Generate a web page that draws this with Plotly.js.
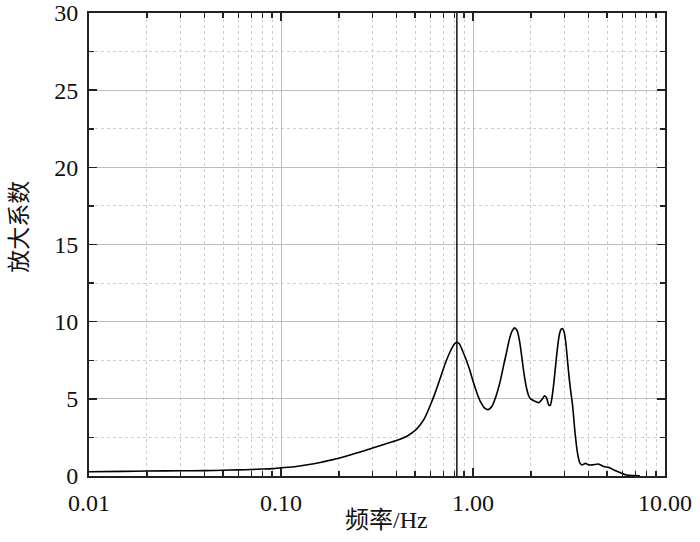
<!DOCTYPE html>
<html>
<head>
<meta charset="utf-8">
<script src="https://cdn.plot.ly/plotly-3.0.1.min.js"></script>
<style>html,body{margin:0;padding:0;background:#fff;}#chart{width:700px;height:542px;}</style>
</head>
<body>
<div id="chart"></div>
<script>
// Frequency (Hz)
var freq = [0.01, 0.015, 0.02, 0.03, 0.04, 0.05, 0.06, 0.07, 0.08, 0.09, 0.1, 0.12, 0.14, 0.16, 0.18, 0.2, 0.25, 0.3, 0.35, 0.4, 0.45, 0.5, 0.53, 0.56, 0.6, 0.64, 0.68, 0.72, 0.76, 0.8, 0.824, 0.85, 0.88, 0.92, 0.96, 1.0, 1.05, 1.1, 1.15, 1.2, 1.26, 1.32, 1.38, 1.44, 1.5, 1.55, 1.6, 1.65, 1.7, 1.75, 1.8, 1.85, 1.9, 1.95, 2.0, 2.1, 2.2, 2.3, 2.36, 2.42, 2.48, 2.53, 2.58, 2.64, 2.7, 2.76, 2.82, 2.88, 2.93, 2.98, 3.04, 3.1, 3.16, 3.22, 3.3, 3.4, 3.5, 3.6, 3.7, 3.85, 4.0, 4.2, 4.5, 4.8, 5.1, 5.5, 5.9, 6.3, 6.8, 7.4];
// Amplification factor
var amp = [0.28, 0.30, 0.32, 0.34, 0.35, 0.37, 0.40, 0.42, 0.45, 0.48, 0.53, 0.62, 0.74, 0.88, 1.02, 1.15, 1.5, 1.82, 2.08, 2.3, 2.56, 2.95, 3.3, 3.75, 4.6, 5.5, 6.45, 7.35, 8.05, 8.55, 8.66, 8.55, 8.15, 7.55, 6.9, 6.15, 5.35, 4.75, 4.4, 4.3, 4.55, 5.2, 6.05, 7.1, 8.1, 8.9, 9.4, 9.6, 9.4, 8.7, 7.6, 6.5, 5.7, 5.2, 4.98, 4.85, 4.75, 5.0, 5.2, 5.05, 4.6, 4.6, 5.1, 6.1, 7.3, 8.4, 9.2, 9.52, 9.55, 9.35, 8.7, 7.6, 6.5, 5.6, 4.6, 2.8, 1.5, 0.85, 0.72, 0.82, 0.72, 0.72, 0.78, 0.62, 0.55, 0.35, 0.2, 0.06, 0.03, 0.02];
// Marked frequency (vertical line)
var markFreq = [0.824, 0.824];
var markY = [0, 30];
// Axis tick values
var xTickVals = [0.01, 0.1, 1, 10];
var xTickText = ['0.01', '0.10', '1.00', '10.00'];
var yTickVals = [0, 5, 10, 15, 20, 25, 30];
var xTitle = '频率/Hz';
var yTitle = '放大系数';

var fontFam = 'Liberation Serif, Noto Sans CJK SC, serif';

var traces = [
  {x: freq, y: amp, type: 'scatter', mode: 'lines',
   line: {color: '#000', width: 1.6, shape: 'spline', smoothing: 0.6},
   hoverinfo: 'x+y', showlegend: false},
  {x: markFreq, y: markY, type: 'scatter', mode: 'lines',
   line: {color: '#111', width: 1.5}, showlegend: false}
];

var axCommon = {
  showline: true, linecolor: '#222', linewidth: 2, mirror: 'ticks',
  ticks: 'inside', ticklen: 8, tickwidth: 1.5, tickcolor: '#222',
  showgrid: true, gridcolor: '#bdbdbd', gridwidth: 1,
  zeroline: false, ticklabeloverflow: 'allow',
  tickfont: {family: fontFam, size: 24, color: '#111'}
};

var layout = {
  width: 700, height: 542,
  margin: {l: 89, r: 35, t: 13, b: 66, pad: 0},
  paper_bgcolor: '#fff', plot_bgcolor: '#fff',
  font: {family: fontFam, color: '#111'},
  xaxis: Object.assign({}, axCommon, {
    type: 'log', range: [-2, 1],
    tickmode: 'array', tickvals: xTickVals, ticktext: xTickText,
    ticklabelstandoff: 4,
    minor: {ticks: 'inside', ticklen: 5, tickwidth: 1.5, tickcolor: '#222',
            dtick: 'D1', showgrid: true, gridcolor: '#cfcfcf', griddash: 'dot', gridwidth: 1}
  }),
  yaxis: Object.assign({}, axCommon, {
    range: [0, 30], tickmode: 'array', tickvals: yTickVals,
    ticklabelstandoff: 4,
    minor: {ticks: 'inside', ticklen: 5, tickwidth: 1.5, tickcolor: '#222',
            dtick: 2.5, showgrid: true, gridcolor: '#cfcfcf', griddash: 'dot', gridwidth: 1}
  }),
  annotations: [
    {text: xTitle, xref: 'paper', yref: 'paper', x: 0.516, y: -0.095,
     xanchor: 'center', yanchor: 'middle', showarrow: false,
     font: {family: fontFam, size: 24, color: '#111'}},
    {text: yTitle, xref: 'paper', yref: 'paper', x: -0.12, y: 0.538,
     xanchor: 'center', yanchor: 'middle', showarrow: false, textangle: -90,
     font: {family: fontFam, size: 23, color: '#111'}}
  ]
};

Plotly.newPlot('chart', traces, layout, {displayModeBar: false, staticPlot: true});
</script>
</body>
</html>
